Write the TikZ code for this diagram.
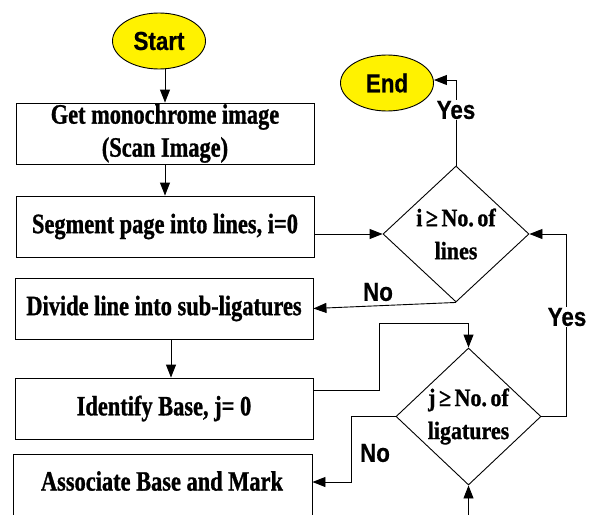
\documentclass[tikz,border=0pt]{standalone}
\usepackage{fontspec}
\usetikzlibrary{shapes.geometric,arrows.meta}
\newfontfamily\boxfont[FakeStretch=0.80,FakeBold=1]{Liberation Serif}
\newfontfamily\dfont[FakeStretch=0.88,FakeBold=1]{Liberation Serif}
\newfontfamily\lblfont[FakeStretch=0.86,FakeBold=0.6]{Liberation Sans}
\newcommand{\gsp}{\hspace{3.5pt}}
\tikzset{
  x=1pt,y=1pt,
  every path/.style={line width=0.9pt},
  procbox/.style={draw, rectangle, inner sep=0pt, minimum width=298pt, minimum height=61pt,
     align=center, font=\boxfont\bfseries\fontsize{28}{33}\selectfont},
  term/.style={draw, ellipse, fill=yellow, inner sep=0pt, minimum width=93pt, minimum height=56pt,
     font=\lblfont\bfseries\fontsize{26}{30}\selectfont},
  decis/.style={draw, diamond, inner sep=0pt},
  dtext/.style={align=center, inner sep=0pt, font=\dfont\bfseries\fontsize{25}{33}\selectfont},
  lbl/.style={inner sep=1pt, font=\lblfont\bfseries\fontsize{26}{30}\selectfont},
  arr/.style={-{Triangle[length=13pt,width=10pt]}},
}
\begin{document}
\begin{tikzpicture}
\useasboundingbox (0,0) rectangle (594,-514);
% terminals
\node[term] (start) at (159,-41) {Start};
\node[term] (end) at (387,-83) {End};
% process boxes
\node[procbox] (box1) at (165,-133.5) {Get monochrome image\\(Scan Image)};
\node[procbox] (box2) at (165,-226.5) {Segment page into lines, i=0};
\node[procbox] (box3) at (164,-308.5) {Divide line into sub-ligatures};
\node[procbox] (box4) at (164,-408.5) {Identify Base, j= 0};
\node[procbox, minimum width=299pt, minimum height=76pt] (box5) at (162.5,-492) {};
\node[font=\boxfont\bfseries\fontsize{28}{33}\selectfont, inner sep=0pt] (t5) at (162,-481) {Associate Base and Mark};
% decisions
\node[decis, minimum width=146pt, minimum height=136pt] (d1) at (456,-234) {};
\node[dtext] (d1t) at (456,-234) {i\gsp≥\gsp No.\gsp of\\lines};
\node[decis, minimum width=145pt, minimum height=137pt] (d2) at (468.5,-416.5) {};
\node[dtext] (d2t) at (468.5,-416.5) {j\gsp≥\gsp No.\gsp of\\ligatures};
\coordinate (bot) at (468.5,-530);
% connectors
\draw[arr] (box1.north |- start.south) -- (box1.north);
\draw[arr] (box1.south) -- (box2.north);
\draw[arr] (box2.east |- d1.west) -- (d1.west);
\draw[arr] (d1.north) |- ([yshift=3pt]end.east);
\node[lbl, fill=white] (yes1) at (456,-110) {Yes};
\draw[arr] (d1.south) -- (box3.east);
\node[lbl] (no1) at (378,-292) {No};
\draw[arr] ([xshift=7pt]box3.south) -- ([xshift=7pt]box4.north);
\draw[arr] ([yshift=18pt]box4.east) -- ++(66,0) |- ([yshift=24pt]d2.north) -- (d2.north);
\draw[arr] (d2.west) -- ++(-44,0) |- ([yshift=10pt]box5.east);
\node[lbl] (no2) at (375,-453) {No};
\draw[arr] (d2.east) -- ++(25,0) |- (d1.east);
\node[lbl, fill=white] (yes2) at (567,-317) {Yes};
\draw[arr] (bot) -- (d2.south);
\end{tikzpicture}
\end{document}
